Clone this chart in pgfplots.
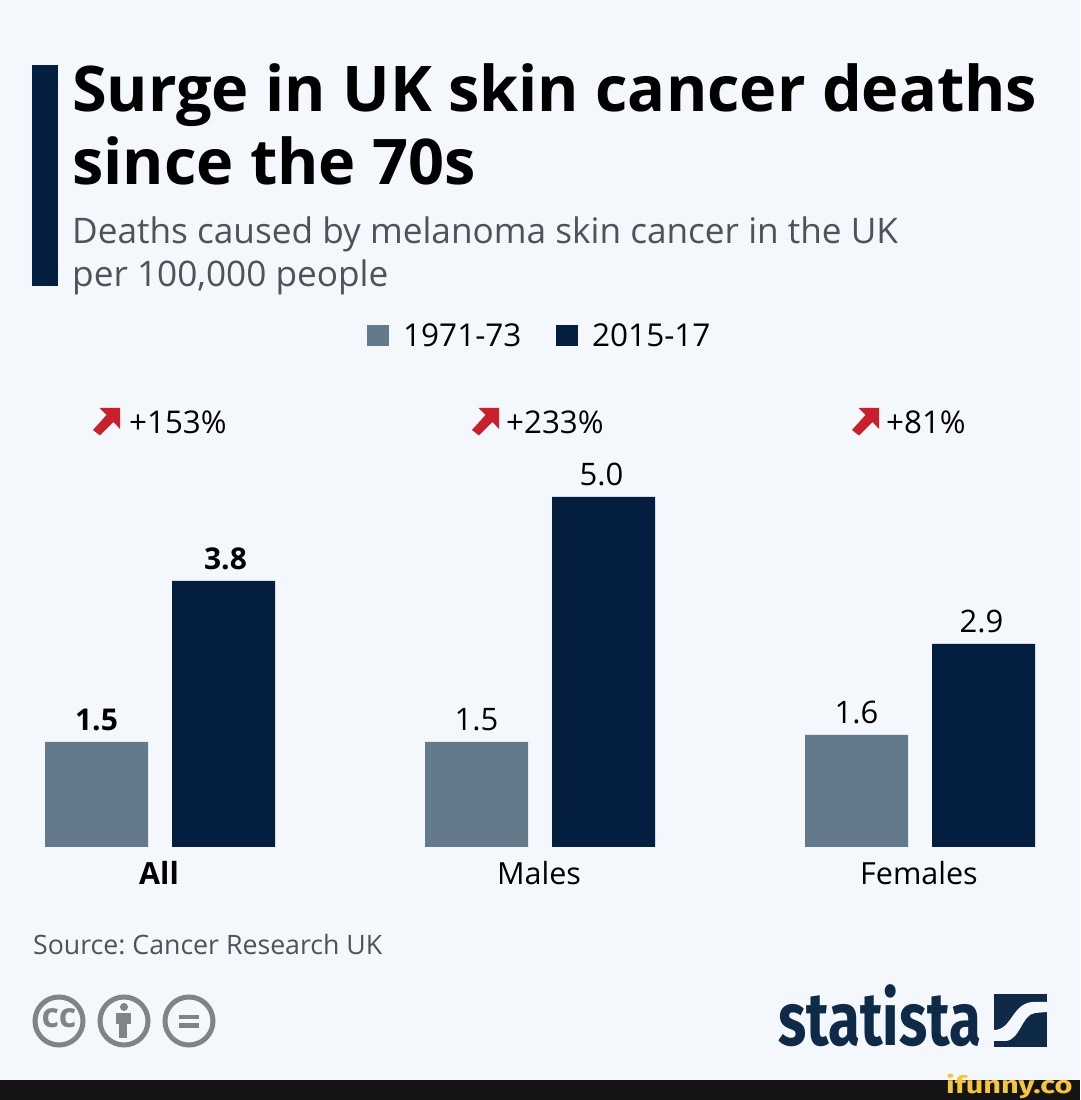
\documentclass[border=0pt]{standalone}
\usepackage{pgfplots}
\pgfplotsset{compat=1.18}
\usepackage{fontspec}
\setmainfont{Open Sans}
\newfontfamily\logofont{Fira Sans}
\definecolor{bg}{HTML}{F4F8FC}
\definecolor{navy}{HTML}{031E3F}
\definecolor{slate}{HTML}{64798A}
\definecolor{arrowred}{HTML}{C8202C}
\definecolor{subt}{HTML}{4D5358}
\definecolor{ccgrey}{HTML}{808485}
\definecolor{logoc}{HTML}{0F2A47}
\definecolor{fun}{HTML}{F5C63C}
\newcommand{\fs}[1]{\fontsize{#1}{#1}\selectfont}
\newcommand{\redarrow}[1]{\fill[arrowred,shift={(#1,0)}] (120,408)--(120,429)--(113.5,422)--(100,435.5)--(93,430)--(106.5,415)--(99.7,408)--cycle;}
\begin{document}
\frenchspacing
\begin{tikzpicture}[x=1pt,y=1pt]
\fill[bg,use as bounding box] (0,0) rectangle (1080,1100);
\begin{axis}[
  at={(0pt,253pt)},anchor=south west,
  scale only axis,width=1080pt,height=847pt,
  xmin=-0.42105,xmax=2.42105,ymin=0,ymax=12.1,
  clip=false,
  axis line style={draw=none},
  major tick style={draw=none},
  ytick=\empty,
  xtick={0,1,2},
  xticklabels={\textbf{All},Males,Females},
  xticklabel style={font=\fs{30.5},text=black,anchor=base,yshift=-33pt,xshift=-1pt},
  ybar,
  bar width=103pt,
  point meta=explicit symbolic,
  nodes near coords,
  every node near coord/.append style={font=\fs{31},text=black,anchor=base,yshift=11pt,inner sep=0pt},
]
\addplot[fill=slate,draw=none,bar shift=-63.5pt] coordinates {(0,1.5)[\textbf{\fs{30}1.5}] (1,1.5)[1.5] (2,1.6)[1.6]};
\addplot[fill=navy,draw=none,bar shift=63.5pt,every node near coord/.append style={xshift=-2pt}] coordinates {(0,3.8)[\hspace*{8pt}\textbf{\fs{30}3.8}] (1,5.0)[5.0] (2,2.9)[2.9]};
\end{axis}
\begin{scope}[yshift=1100pt,y=-1pt,x=1pt]
\fill[navy] (32,65) rectangle (58,286);
\node[anchor=base west,inner sep=0pt,text=black] at (72,112) {\fs{63}\bfseries Surge in UK skin cancer deaths};
\node[anchor=base west,inner sep=0pt,text=black] at (72,185) {\fs{63}\bfseries since the 70s};
\node[anchor=base west,inner sep=0pt,text=subt] at (72,244) {\fs{35.2}Deaths caused by melanoma skin cancer in the UK};
\node[anchor=base west,inner sep=0pt,text=subt] at (72,287) {\fs{35.2}per 100,000 people};
\fill[slate] (367,325) rectangle (389,346);
\fill[navy] (556,325) rectangle (578,346);
\node[anchor=base west,inner sep=0pt] at (403,347) {\fs{31.5}1971-73};
\node[anchor=base west,inner sep=0pt] at (592,347) {\fs{31.5}2015-17};
\redarrow{0}\redarrow{379}\redarrow{759}
\node[anchor=base west,inner sep=0pt] at (129,434) {\fs{31.3}+153\%};
\node[anchor=base west,inner sep=0pt] at (506,434) {\fs{31.3}+233\%};
\node[anchor=base west,inner sep=0pt] at (886,434) {\fs{31.3}+81\%};
\node[anchor=base west,inner sep=0pt,text=subt] at (33,955) {\fs{26.7}Source: Cancer Research UK};
% licence icons
\foreach \cx in {59,124,189} \draw[ccgrey,line width=5pt] (\cx,1021) circle[radius=24];
\node[text=ccgrey,inner sep=0pt] at (59,1018) {\fs{34}\bfseries cc};
\fill[ccgrey] (124,1007) circle[radius=4];
\fill[ccgrey] (116,1013) rectangle (131,1024);
\fill[ccgrey] (119,1024) rectangle (127,1038);
\fill[ccgrey] (179,1015) rectangle (199,1019);
\fill[ccgrey] (179,1023) rectangle (199,1028);
% logo
\node[anchor=base west,inner sep=0pt,text=logoc] at (778,1046) {\scalebox{0.87}[1.12]{\logofont\fs{67}\bfseries statista}};
\fill[logoc] (994,994) rectangle (1047,1047);
\fill[bg] (994,1030) .. controls (1012,1030) and (1012,1003) .. (1033,1002) -- (1047,1002) -- (1047,1012) -- (1035,1013) .. controls (1022,1014) and (1020,1041) .. (1005,1041) -- (994,1041) -- cycle;
% bottom strip
\fill[black!92!white] (0,1080) rectangle (1080,1100);
\node[anchor=base west,inner sep=0pt,text=fun] at (946,1094) {\scalebox{1.28}[1]{\logofont\fs{24}\bfseries ifunny.co}};
\end{scope}
\end{tikzpicture}
\end{document}
